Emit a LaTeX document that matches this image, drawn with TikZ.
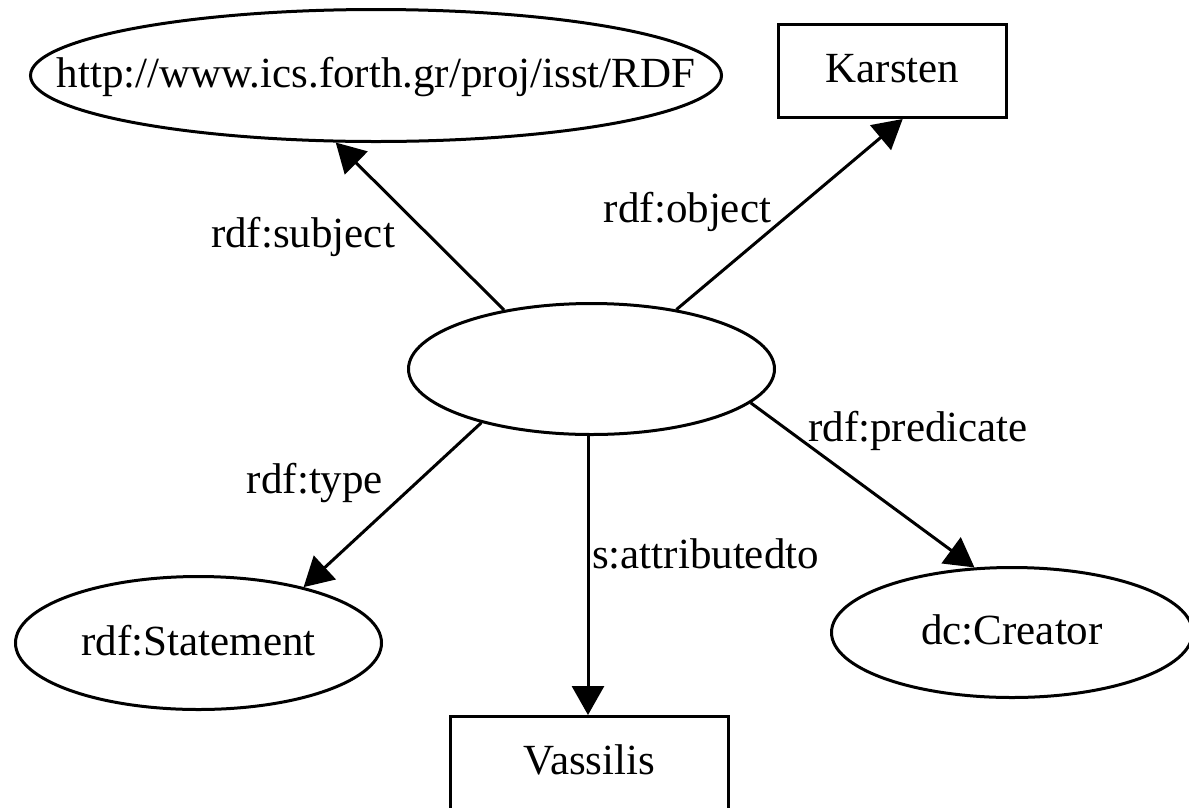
\documentclass[tikz,border=0pt]{standalone}
\usepackage{fontspec}
\setmainfont{Liberation Serif}
\usetikzlibrary{shapes.geometric,arrows.meta}
\begin{document}
\begin{tikzpicture}[x=1pt,y=-1pt,
  every node/.style={font=\fontsize{43}{50}\selectfont},
  oval/.style={ellipse,draw,line width=3pt,inner sep=0pt,text height=30pt,text depth=6pt},
  box/.style={rectangle,draw,line width=3pt,inner sep=0pt,text height=30pt,text depth=8pt},
  lbl/.style={anchor=base,inner sep=0pt},
  link/.style={line width=3pt,-{Triangle[length=29pt,width=32pt]}}]
\useasboundingbox (0,0) rectangle (1189,807);
\fill[white] (0,0) rectangle (1189,807);

% resources
\node[oval,minimum width=691pt,minimum height=132pt] (U) at (376,75.5)
  {\makebox[0pt]{http://www.ics.forth.gr/proj/isst/RDF}};
\node[box,minimum width=228pt,minimum height=93pt] (K) at (892.5,71) {Karsten};
\node[oval,minimum width=366pt,minimum height=131pt] (C) at (591.5,369) {};
\node[oval,minimum width=366pt,minimum height=133pt] (S) at (198.5,643) {rdf:Statement};
\node[oval,minimum width=361pt,minimum height=130pt] (D) at (1012,632.5) {dc:Creator};
\node[box,minimum width=278pt,minimum height=93pt] (V) at (589.5,763) {Vassilis};

% statement properties
\draw[link] (C.146.2) -- (U.-121.3);
\draw[link] (C.35.5) -- (K.-78.4);
\draw[link] (C.-154.2) -- (S.28.5);
\draw[link] (C.-93.9) -- (C.-93.9 |- V.north);
\draw[link] (C.-12.2) -- (D.120.4);

% property names
\node[lbl] (lsub) at (303,247) {rdf:subject};
\node[lbl] (lobj) at (687.5,222) {rdf:object};
\node[lbl] (ltyp) at (315,493) {rdf:type};
\node[lbl] (latt) at (705.5,568) {s:attributedto};
\node[lbl] (lpre) at (918,441) {rdf:predicate};
\end{tikzpicture}
\end{document}
